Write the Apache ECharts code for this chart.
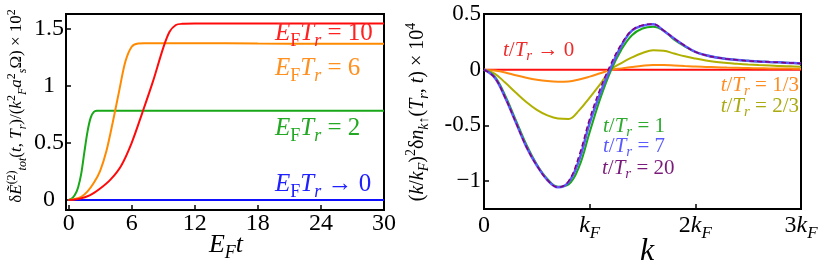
<!DOCTYPE html>
<html><head><meta charset="utf-8">
<script src="https://cdn.jsdelivr.net/npm/echarts@6/dist/echarts.min.js"></script>
<style>html,body{margin:0;padding:0;background:#fff}#c{width:830px;height:273px}</style>
</head><body><div id="c"></div>
<script>
// ---- Left panel data: E_F t vs energy (x10^2)
const leftXTicks = [0, 6, 12, 18, 24, 30];
const leftYTicks = [0, 0.5, 1, 1.5];
const tBlue = [0, 30];
const eBlue = [0, 0];
const tGreen = [0, 0.3, 0.6, 0.9, 1.2, 1.5, 1.8, 2.1, 2.4, 2.7, 3.0, 6, 12, 18, 24, 30];
const eGreen = [0, 0.012, 0.045, 0.11, 0.23, 0.42, 0.6, 0.72, 0.77, 0.78, 0.781, 0.781, 0.78, 0.781, 0.78, 0.78];
const tOrange = [0, 0.6, 1.2, 1.8, 2.4, 3.0, 3.6, 4.2, 4.8, 5.4, 6.0, 6.6, 7.2, 12, 18, 24, 30];
const eOrange = [0, 0.008, 0.027, 0.075, 0.15, 0.255, 0.43, 0.68, 0.95, 1.21, 1.34, 1.368, 1.37, 1.37, 1.368, 1.366, 1.365];
const tRed = [0, 1, 2, 3, 4, 5, 6, 7, 8, 9, 9.6, 10.2, 10.8, 12, 18, 24, 30];
const eRed = [0, 0.01, 0.04, 0.1, 0.18, 0.3, 0.5, 0.76, 1.03, 1.33, 1.47, 1.53, 1.54, 1.542, 1.542, 1.542, 1.542];

// ---- Right panel data: k/kF vs (k/kF)^2 dn (x10^4)
const kVals = [0,0.1,0.2,0.3,0.4,0.5,0.6,0.7,0.8,0.9,1.0,1.1,1.2,1.3,1.4,1.5,1.6,1.7,1.8,1.9,2.0,2.1,2.2,2.3,2.4,2.5,2.6,2.7,2.8,2.9,3.0];
const nZero   = kVals.map(() => 0);
const nThird  = [0,-0.008,-0.025,-0.05,-0.072,-0.09,-0.102,-0.107,-0.105,-0.088,-0.062,-0.032,-0.002,0.012,0.025,0.036,0.042,0.042,0.038,0.033,0.028,0.025,0.022,0.019,0.017,0.015,0.013,0.012,0.011,0.01,0.009];
const nTwoThird = [0,-0.035,-0.115,-0.205,-0.29,-0.36,-0.41,-0.438,-0.442,-0.365,-0.25,-0.13,0.0,0.06,0.11,0.15,0.175,0.17,0.145,0.12,0.1,0.083,0.07,0.06,0.053,0.047,0.042,0.038,0.033,0.03,0.027];
const nOne    = [0,-0.06,-0.23,-0.45,-0.67,-0.85,-0.98,-1.05,-1.03,-0.87,-0.56,-0.26,-0.01,0.18,0.31,0.37,0.385,0.35,0.27,0.21,0.16,0.13,0.11,0.097,0.087,0.08,0.074,0.07,0.066,0.061,0.056];
const nSeven  = [0,-0.07,-0.25,-0.47,-0.69,-0.86,-0.99,-1.055,-1.01,-0.81,-0.48,-0.21,0.02,0.215,0.35,0.395,0.408,0.35,0.28,0.215,0.16,0.13,0.11,0.097,0.087,0.08,0.074,0.07,0.066,0.061,0.056];
const nTwenty = [0,-0.07,-0.25,-0.47,-0.69,-0.86,-0.99,-1.055,-1.0,-0.77,-0.44,-0.17,0.05,0.23,0.355,0.4,0.41,0.352,0.28,0.215,0.16,0.13,0.11,0.097,0.087,0.08,0.074,0.07,0.066,0.061,0.056];
const rightXTicks = [0, 1, 2, 3];
const rightXLabels = ['{n|0}', '{i|k}{si|F}', '{n|2}{i|k}{si|F}', '{n|3}{i|k}{si|F}'];
const rightYTicks = [-1, -0.5, 0, 0.5];
const rightYLabels = ['\u22121', '-0.5', '0', '0.5'];

const zip = (a, b) => a.map((v, i) => [v, b[i]]);
const F = '"Liberation Serif", "DejaVu Serif", serif';

function rt(fs, col) {
  const lh = Math.round(fs * 1.35);
  const ss = Math.round(fs * 0.7);
  return {
    n: {fontSize: fs, fontFamily: F, fill: col, color: col, lineHeight: lh},
    i: {fontSize: fs, fontFamily: F, fontStyle: 'italic', fill: col, color: col, lineHeight: lh},
    s: {fontSize: ss, fontFamily: F, fill: col, color: col, lineHeight: ss, verticalAlign: 'bottom'},
    si: {fontSize: ss, fontFamily: F, fontStyle: 'italic', fill: col, color: col, lineHeight: ss, verticalAlign: 'bottom'},
    p: {fontSize: ss, fontFamily: F, fill: col, color: col, lineHeight: ss, verticalAlign: 'top'}
  };
}
function txt(x, y, text, fs, col, align, rot) {
  return {type: 'text', x: x, y: y, rotation: rot || 0, z: 100,
    style: {text: text, rich: rt(fs, col), align: align, verticalAlign: 'middle', fill: col, fontSize: fs, fontFamily: F}};
}
const eq = v => '{n| = ' + v + '}';
const arr = '{n| \u2192 0}';

const lw = 2;
const chart = echarts.init(document.getElementById('c'));
chart.setOption({
  animation: false,
  backgroundColor: '#fff',
  textStyle: {fontFamily: F},
  grid: [
    {left: 66, top: 14, width: 318, height: 196, show: true, borderColor: '#000', borderWidth: 2, backgroundColor: 'transparent'},
    {left: 484, top: 14, width: 317, height: 195, show: true, borderColor: '#000', borderWidth: 2, backgroundColor: 'transparent'}
  ],
  xAxis: [
    {type: 'value', gridIndex: 0, min: -0.25, max: 30,
      axisLine: {show: false, onZero: false}, splitLine: {show: false},
      axisTick: {inside: true, length: 5, customValues: leftXTicks, lineStyle: {color: '#000', width: 1.5}},
      axisLabel: {customValues: leftXTicks, margin: 2, fontSize: 24, fontFamily: F, color: '#000'}},
    {type: 'value', gridIndex: 1, min: 0, max: 3,
      axisLine: {show: false, onZero: false}, splitLine: {show: false},
      axisTick: {inside: true, length: 5, customValues: rightXTicks, lineStyle: {color: '#000', width: 1.5}},
      axisLabel: {customValues: rightXTicks, margin: 1, color: '#000',
        formatter: v => rightXLabels[rightXTicks.indexOf(v)], rich: rt(24, '#000')}}
  ],
  yAxis: [
    {type: 'value', gridIndex: 0, min: -0.0874, max: 1.626,
      axisLine: {show: false, onZero: false}, splitLine: {show: false},
      axisTick: {inside: true, length: 5, customValues: leftYTicks, lineStyle: {color: '#000', width: 1.5}},
      axisLabel: {customValues: leftYTicks, margin: 17, align: 'center', fontSize: 24, fontFamily: F, color: '#000'}},
    {type: 'value', gridIndex: 1, min: -1.25, max: 0.5,
      axisLine: {show: false, onZero: false}, splitLine: {show: false},
      axisTick: {inside: true, length: 5, customValues: rightYTicks, lineStyle: {color: '#000', width: 1.5}},
      axisLabel: {customValues: rightYTicks, margin: 3, fontSize: 23, fontFamily: F, color: '#000',
        formatter: v => rightYLabels[rightYTicks.indexOf(v)]}}
  ],
  series: [
    {type: 'line', xAxisIndex: 0, yAxisIndex: 0, data: zip(tBlue, eBlue), showSymbol: false, lineStyle: {color: '#1010ff', width: lw}},
    {type: 'line', xAxisIndex: 0, yAxisIndex: 0, data: zip(tGreen, eGreen), smooth: 0.3, showSymbol: false, lineStyle: {color: '#18a818', width: lw}},
    {type: 'line', xAxisIndex: 0, yAxisIndex: 0, data: zip(tOrange, eOrange), smooth: 0.3, showSymbol: false, lineStyle: {color: '#ff8a00', width: lw}},
    {type: 'line', xAxisIndex: 0, yAxisIndex: 0, data: zip(tRed, eRed), smooth: 0.3, showSymbol: false, lineStyle: {color: '#ff0a0a', width: lw}},
    {type: 'line', xAxisIndex: 1, yAxisIndex: 1, data: zip(kVals, nZero), showSymbol: false, lineStyle: {color: '#ff1010', width: lw}},
    {type: 'line', xAxisIndex: 1, yAxisIndex: 1, data: zip(kVals, nThird), smooth: 0.4, showSymbol: false, lineStyle: {color: '#ff8a10', width: lw}},
    {type: 'line', xAxisIndex: 1, yAxisIndex: 1, data: zip(kVals, nTwoThird), smooth: 0.4, showSymbol: false, lineStyle: {color: '#b0b000', width: lw}},
    {type: 'line', xAxisIndex: 1, yAxisIndex: 1, data: zip(kVals, nOne), smooth: 0.4, showSymbol: false, lineStyle: {color: '#18a818', width: lw}},
    {type: 'line', xAxisIndex: 1, yAxisIndex: 1, data: zip(kVals, nSeven), smooth: 0.4, showSymbol: false, lineStyle: {color: '#5a5aff', width: 2.5}},
    {type: 'line', xAxisIndex: 1, yAxisIndex: 1, data: zip(kVals, nTwenty), smooth: 0.4, showSymbol: false, lineStyle: {color: '#800080', width: 1.5, type: [5, 3]}}
  ],
  graphic: [
    txt(275, 33, '{i|E}{s|F}{i|T}{si|r}' + eq('10'), 25, '#ff2020', 'left'),
    txt(275, 68, '{i|E}{s|F}{i|T}{si|r}' + eq('6'), 25, '#ff9020', 'left'),
    txt(275, 128, '{i|E}{s|F}{i|T}{si|r}' + eq('2'), 25, '#22a822', 'left'),
    txt(275, 184, '{i|E}{s|F}{i|T}{si|r}' + arr, 25, '#2020ff', 'left'),
    txt(226, 245, '{i|E}{si|F}{i|t}', 26, '#000', 'center'),
    txt(647, 252, '{i|k}', 32, '#000', 'center'),
    txt(503, 50, '{i|t}{n|/}{i|T}{si|r}' + arr, 21, '#ee2a2a', 'left'),
    txt(799, 85, '{i|t}{n|/}{i|T}{si|r}' + eq('1/3'), 21, '#ff8c20', 'right'),
    txt(799, 106, '{i|t}{n|/}{i|T}{si|r}' + eq('2/3'), 21, '#aaaa10', 'right'),
    txt(603, 126, '{i|t}{n|/}{i|T}{si|r}' + eq('1'), 21, '#2eaa2e', 'left'),
    txt(603, 146, '{i|t}{n|/}{i|T}{si|r}' + eq('7'), 21, '#5a5aff', 'left'),
    txt(602, 168, '{i|t}{n|/}{i|T}{si|r}' + eq('20'), 21, '#7a1a7a', 'left'),
    txt(17, 106, '{n|\u03b4}{i|\u1ebc}{p|(2)}{si|tot}{n|(}{i|t}{n|, }{i|T}{si|r}{n|)/(}{i|k}{p|2}{si|F}{i|a}{p|2}{si|s}{n|\u03a9) \u00d7 10}{p|2}', 17, '#000', 'center', Math.PI / 2),
    txt(418, 112, '{n|(}{i|k}{n|/}{i|k}{si|F}{n|)}{p|2}{n|\u03b4}{i|n}{si|k\u2191}{n|(}{i|T}{si|r}{n|, }{i|t}{n|) \u00d7 10}{p|4}', 20, '#000', 'center', Math.PI / 2)
  ]
});
</script></body></html>
